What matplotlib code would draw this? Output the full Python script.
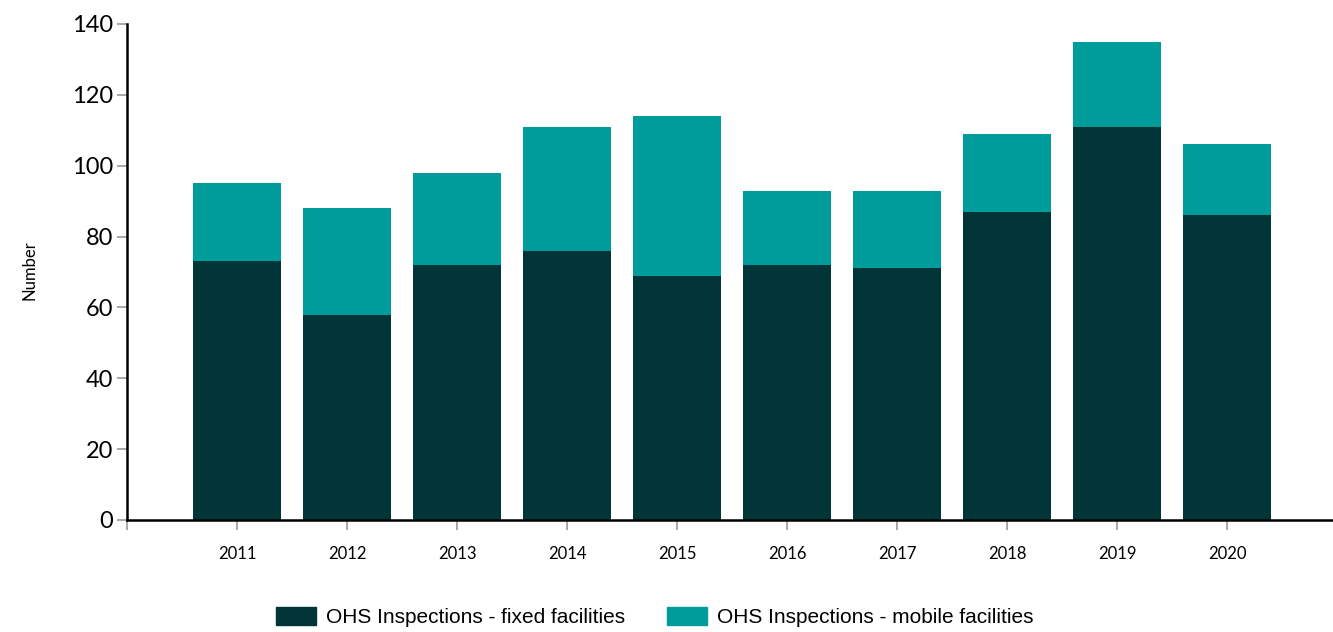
import numpy as np
import matplotlib.pyplot as plt
from matplotlib.patches import Patch

years = ["2011", "2012", "2013", "2014", "2015", "2016", "2017", "2018", "2019", "2020"]
fixed = [73, 58, 72, 76, 69, 72, 71, 87, 111, 86]
mobile = [22, 30, 26, 35, 45, 21, 22, 22, 24, 20]

dark = "#023537"
teal = "#009b9b"

fig = plt.figure(figsize=(13.33, 6.32), dpi=100)
ax = fig.add_axes([127 / 1333, 112 / 632, 1 - 127 / 1333, 496 / 632])

x = np.arange(len(years))
ax.bar(x, fixed, width=0.8, color=dark, label="OHS Inspections - fixed facilities")
ax.bar(x, mobile, width=0.8, bottom=fixed, color=teal, label="OHS Inspections - mobile facilities")

ax.set_ylim(0, 140)
ax.set_xlim(-1, 9.96)
ax.set_yticks(range(0, 141, 20))
ax.set_xticks([-1] + list(x))
ax.set_xticklabels([""] + years, fontsize=12, family="Lato")
for lab in ax.get_yticklabels():
    lab.set_fontsize(17)
    lab.set_family("Lato")

ax.spines["top"].set_visible(False)
ax.spines["right"].set_visible(False)
ax.spines["left"].set_linewidth(1.8)
ax.spines["bottom"].set_linewidth(1.8)
ax.tick_params(axis="both", color="#999999", length=7, width=1.2)
ax.tick_params(axis="y", pad=3)
ax.tick_params(axis="x", pad=12)

fig.text(30 / 1333, 1 - 270 / 632, "Number", rotation=90, ha="center", va="center",
         fontsize=12, family="Lato")

handles = [Patch(color=dark), Patch(color=teal)]
fig.legend(handles, ["OHS Inspections - fixed facilities", "OHS Inspections - mobile facilities"],
           loc="center", bbox_to_anchor=(655 / 1333, 1 - 617 / 632), ncol=2, frameon=False,
           prop={"family": "Liberation Sans", "size": 15}, handlelength=1.9, handleheight=1.0,
           columnspacing=2.0, handletextpad=0.5)

fig.savefig("out.png", dpi=100)
